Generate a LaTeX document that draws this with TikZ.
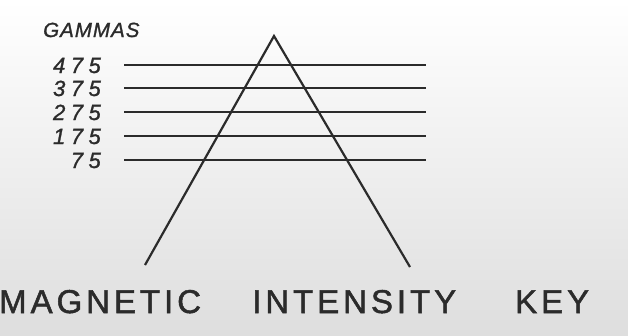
\documentclass[tikz,border=0pt]{standalone}
\usepackage{fontspec}
\setmainfont{Liberation Sans}
\definecolor{ink}{HTML}{2B2B2B}
\definecolor{paperlow}{HTML}{DEDEDE}

\begin{document}
\begin{tikzpicture}[
  x=1pt, y=-1pt,
  level/.style={draw=ink, line width=2.3pt},
  leg/.style={draw=ink, line width=2.2pt, line join=miter},
  gam/.style={anchor=base east, inner sep=0pt, text=ink,
              font=\fontsize{22}{22}\selectfont\itshape\addfontfeatures{LetterSpace=25,FakeBold=1.2}},
  hdr/.style={anchor=base west, inner sep=0pt, text=ink,
              font=\fontsize{20.5}{20.5}\selectfont\itshape\addfontfeatures{LetterSpace=5,FakeBold=1.2}},
  word/.style={anchor=base west, inner sep=0pt, text=ink,
               font=\fontsize{33}{33}\selectfont\addfontfeatures{LetterSpace=12,FakeBold=1.5}},
]
% paper
\shade[top color=white, middle color=white, bottom color=paperlow] (0,0) rectangle (628,335);
\useasboundingbox (0,0) rectangle (628,335);
% scale of gammas
\node[hdr] (gammas) at (43,37) {GAMMAS};
\foreach \g/\y in {475/65, 375/88, 275/112, 175/136, 75/160} {
  \coordinate (l\g) at (124,\y);
  \coordinate (r\g) at (426,\y);
  \node[gam] (n\g) at (101,\y+8) {\g};
  \draw[level] (l\g) -- (r\g);
}
% intensity profile
\coordinate (apex) at (274,36);
\coordinate (footL) at (145,265);
\coordinate (footR) at (410,267);
\draw[leg] (footL) -- (apex) -- (footR);
% caption
\node[word] (magnetic) at (-1,313) {MAGNETIC};
\node[word] (intensity) at (252,313) {INTENSITY};
\node[word] (key) at (515,313) {KEY};
\end{tikzpicture}
\end{document}
